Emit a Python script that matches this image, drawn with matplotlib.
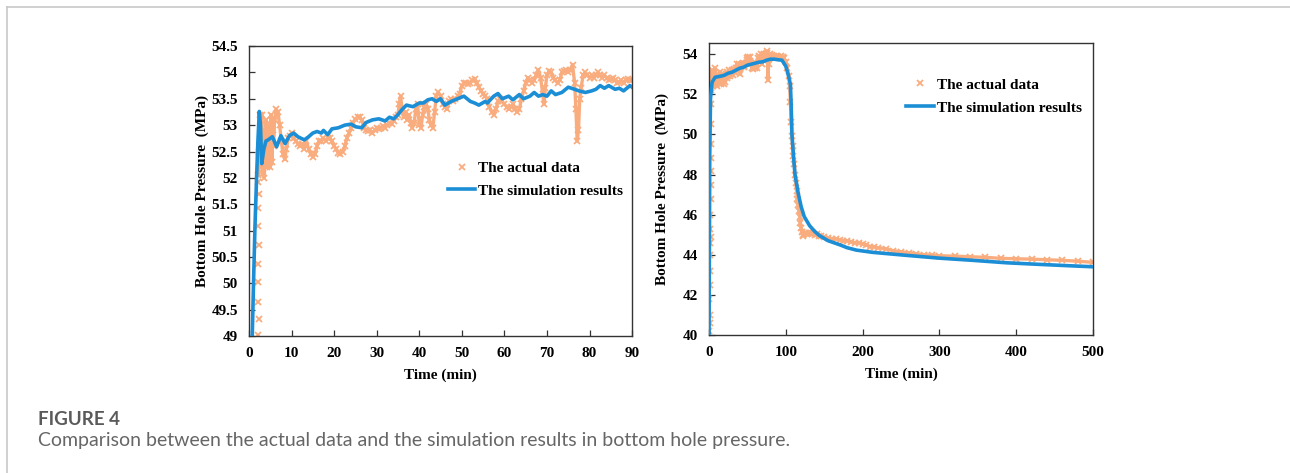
import numpy as np
import matplotlib
matplotlib.use("Agg")
from matplotlib import pyplot as plt
from matplotlib.lines import Line2D

# Left panel (0-90 min): measured data, initial rise, then the noisy record
LEFT_RISE_T = [2.2, 2.25, 2.2, 2.15, 2.2, 2.25, 2.2, 2.2, 2.25, 2.2]
LEFT_RISE_P = [49.02, 49.33, 49.65, 50.02, 50.37, 50.73, 51.08, 51.43, 51.70, 51.93]

LEFT_ACT_T = [
    2.2, 2.4, 2.6, 2.8, 3.0, 3.2, 3.4, 3.6, 3.8, 4.0, 4.2, 4.4, 4.6, 4.8, 5.0,
    5.2, 5.4, 5.6, 5.8, 6.0, 6.4, 6.8, 7.2, 7.6, 8.0, 8.4, 8.8, 9.2, 9.6, 10.0,
    10.5, 11.0, 11.5, 12.0, 12.5, 13.0, 13.5, 14.0, 14.5, 15.0, 15.5, 16.0,
    16.5, 17.0, 17.5, 18.0, 18.5, 19.0, 19.5, 20.0, 20.5, 21.0, 21.5, 22.0,
    22.5, 23.0, 23.5, 24.0, 24.5, 25.0, 25.5, 26.0, 26.5, 27.0, 27.5, 28.0,
    28.5, 29.0, 29.5, 30.0, 30.5, 31.0, 31.5, 32.0, 32.5, 33.0, 33.5, 34.0,
    34.5, 35.0, 35.3, 35.6, 36.0, 36.4, 36.8, 37.2, 37.6, 38.0, 38.4, 38.8,
    39.2, 39.6, 40.0, 40.4, 40.8, 41.2, 41.6, 42.0, 42.4, 42.8, 43.2, 43.6,
    44.0, 44.5, 45.0, 45.5, 46.0, 46.5, 47.0, 47.5, 48.0, 48.5, 49.0, 49.5,
    50.0, 50.5, 51.0, 51.5, 52.0, 52.5, 53.0, 53.5, 54.0, 54.5, 55.0, 55.5,
    56.0, 56.5, 57.0, 57.5, 58.0, 58.5, 59.0, 59.5, 60.0, 60.5, 61.0, 61.5,
    62.0, 62.5, 63.0, 63.5, 64.0, 64.5, 65.0, 65.5, 66.0, 66.5, 67.0, 67.5,
    68.0, 68.5, 69.0, 69.3, 69.6, 70.0, 70.5, 71.0, 71.5, 72.0, 72.5, 73.0,
    73.5, 74.0, 74.5, 75.0, 75.5, 76.0, 76.5, 76.8, 77.1, 77.4, 77.7, 78.0,
    78.5, 79.0, 79.5, 80.0, 80.5, 81.0, 81.5, 82.0, 82.5, 83.0, 83.5, 84.0,
    84.5, 85.0, 85.5, 86.0, 86.5, 87.0, 87.5, 88.0, 88.5, 89.0, 89.5, 90.0,
]
LEFT_ACT_P = [
    52.05, 52.5, 53.2, 52.2, 53.2, 52.1, 52.9, 52.0, 52.6, 53.1, 52.2, 53.0,
    52.3, 52.8, 52.2, 53.2, 52.3, 52.9, 52.6, 53.1, 53.3, 53.25, 53.0, 52.7,
    52.45, 52.35, 52.55, 52.75, 52.8, 52.85, 52.75, 52.7, 52.65, 52.6, 52.65,
    52.55, 52.7, 52.55, 52.45, 52.4, 52.45, 52.6, 52.7, 52.7, 52.75, 52.7,
    52.75, 52.75, 52.7, 52.6, 52.55, 52.48, 52.45, 52.5, 52.6, 52.75, 52.85,
    52.95, 53.05, 53.12, 53.15, 53.15, 53.1, 52.95, 52.9, 52.88, 52.9, 52.85,
    52.9, 52.95, 52.92, 52.95, 52.98, 52.95, 53.0, 53.05, 53.02, 53.08, 53.15,
    53.2, 53.4, 53.55, 53.3, 53.15, 53.25, 53.1, 53.2, 53.05, 52.95, 53.05,
    53.3, 53.4, 53.0, 52.95, 53.2, 53.35, 53.4, 53.3, 53.1, 53.0, 52.95, 53.25,
    53.55, 53.62, 53.55, 53.4, 53.35, 53.3, 53.45, 53.5, 53.45, 53.5, 53.55,
    53.6, 53.75, 53.8, 53.8, 53.78, 53.8, 53.85, 53.88, 53.8, 53.72, 53.65,
    53.6, 53.55, 53.5, 53.35, 53.25, 53.2, 53.3, 53.45, 53.5, 53.45, 53.4,
    53.35, 53.3, 53.35, 53.4, 53.3, 53.25, 53.3, 53.5, 53.65, 53.8, 53.9,
    53.85, 53.8, 53.85, 53.95, 54.05, 53.9, 53.6, 53.4, 53.7, 53.95, 54.02,
    54.0, 53.9, 53.85, 53.8, 53.85, 54.0, 54.02, 54.05, 54.0, 54.05, 54.15,
    53.8, 53.3, 52.7, 52.9, 53.5, 53.7, 53.95, 54.0, 53.95, 53.9, 53.95, 53.9,
    53.95, 54.0, 53.95, 53.9, 53.95, 53.9, 53.85, 53.88, 53.9, 53.85, 53.8,
    53.82, 53.85, 53.8, 53.85, 53.88, 53.85, 53.85,
]

LEFT_SIM_T = [
    0.5, 0.78, 1.1, 1.41, 1.8, 2.1, 2.43, 2.7, 3.0, 3.5, 4.0, 4.5, 5.5, 6.5,
    7.5, 8.5, 9.5, 10.5, 11.5, 13.0, 14.0, 15.0, 16.0, 17.0, 17.5, 18.5, 19.5,
    21.0, 22.5, 24.0, 25.0, 26.5, 27.5, 29.0, 30.5, 32.0, 33.0, 34.0, 35.0,
    36.0, 37.0, 38.5, 40.0, 41.0, 42.0, 43.0, 44.0, 45.0, 46.0, 47.5, 49.0,
    50.5, 52.0, 53.0, 54.0, 55.5, 56.0, 57.5, 58.5, 59.5, 61.0, 62.0, 63.5,
    64.5, 66.0, 67.0, 68.0, 69.0, 70.0, 71.0, 72.0, 73.5, 75.0, 76.5, 77.5,
    79.0, 80.5, 81.5, 82.5, 83.5, 84.5, 86.0, 87.0, 88.0, 89.5, 90.0,
]
LEFT_SIM_P = [
    48.4, 49.03, 50.1, 51.08, 52.03, 52.7, 53.26, 53.0, 52.27, 52.55, 52.7,
    52.72, 52.78, 52.59, 52.8, 52.65, 52.8, 52.85, 52.78, 52.72, 52.78, 52.85,
    52.88, 52.85, 52.9, 52.82, 52.93, 52.95, 53.0, 53.02, 52.97, 52.95, 53.05,
    53.1, 53.12, 53.08, 53.15, 53.12, 53.2, 53.3, 53.38, 53.35, 53.42, 53.42,
    53.48, 53.5, 53.45, 53.5, 53.38, 53.45, 53.5, 53.55, 53.45, 53.42, 53.38,
    53.45, 53.42, 53.55, 53.6, 53.5, 53.55, 53.48, 53.58, 53.5, 53.55, 53.62,
    53.55, 53.58, 53.55, 53.65, 53.58, 53.62, 53.72, 53.68, 53.65, 53.62,
    53.65, 53.68, 53.75, 53.7, 53.75, 53.68, 53.7, 53.65, 53.75, 53.72,
]

# Right panel (0-500 min)
RIGHT_RISE_T = [0.5, 0.8, 1.0, 0.5, 1.0, 0.8, 1.2, 1.5, 2.0, 1.5, 1.8, 2.0,
                2.5, 2.2, 2.8, 2.5, 3.0, 3.2, 3.0]
RIGHT_RISE_P = [40.2, 40.6, 41.0, 41.8, 42.5, 43.2, 44.0, 44.6, 44.9, 45.3,
                46.0, 46.8, 47.5, 48.2, 48.8, 49.5, 50.5, 51.5, 52.2]

RIGHT_ACT_T = [
    3, 4, 5, 6, 7, 8, 9, 10, 11, 12, 13, 14, 15, 16, 17, 18, 19, 20, 21, 22,
    23, 24, 25, 26, 27, 28, 29, 30, 31, 32, 33, 34, 35, 36, 37, 38, 39, 40, 41,
    42, 43, 44, 45, 46, 47, 48, 49, 50, 51, 52, 53, 54, 55, 56, 57, 58, 59, 60,
    61, 62, 63, 64, 65, 66, 67, 68, 69, 70, 71, 72, 73, 74, 75, 76, 76.5, 77,
    77.5, 78, 80, 82, 84, 86, 88, 90, 92, 94, 96, 98, 100, 102, 104, 105, 106,
    107, 108, 109, 110, 111, 112, 113, 114, 115, 116, 117, 118, 119, 120, 121,
    122, 123, 124, 126, 128, 130, 132, 134, 136, 138, 140, 143, 146, 150, 155,
    160, 165, 170, 175, 180, 185, 190, 195, 200, 205, 210, 215, 220, 230, 240,
    250, 260, 270, 280, 290, 300, 320, 340, 360, 380, 400, 420, 440, 460, 480,
    500,
]
RIGHT_ACT_P = [
    52.3, 53.2, 52.4, 53.1, 52.5, 53.3, 52.6, 53.0, 52.4, 52.9, 52.6, 53.1,
    52.5, 52.8, 52.7, 53.0, 52.5, 52.8, 52.6, 53.0, 52.8, 53.1, 52.9, 53.2,
    52.9, 53.1, 53.0, 53.2, 52.95, 53.1, 53.25, 53.1, 53.3, 53.5, 53.2, 53.35,
    53.5, 53.3, 53.0, 53.35, 53.5, 53.55, 53.35, 53.4, 53.5, 53.55, 53.7, 53.8,
    53.85, 53.8, 53.85, 53.65, 53.55, 53.3, 53.25, 53.45, 53.4, 53.3, 53.4,
    53.3, 53.5, 53.8, 53.9, 53.85, 53.8, 54.0, 53.5, 53.95, 54.0, 53.85, 53.9,
    54.0, 54.05, 54.15, 53.7, 52.7, 53.5, 53.95, 54.0, 53.95, 53.9, 53.85,
    53.9, 53.85, 53.85, 53.9, 53.85, 53.8, 53.6, 53.3, 52.9, 52.4, 51.6, 50.6,
    49.9, 49.4, 48.9, 48.5, 48.0, 47.6, 47.2, 46.8, 46.5, 46.2, 45.9, 45.6,
    45.35, 45.15, 45.0, 44.95, 45.05, 45.1, 45.05, 45.1, 45.1, 45.05, 45.1,
    45.0, 45.05, 44.95, 44.95, 44.9, 44.85, 44.8, 44.8, 44.75, 44.7, 44.7,
    44.65, 44.6, 44.6, 44.55, 44.5, 44.4, 44.4, 44.35, 44.3, 44.2, 44.15, 44.1,
    44.05, 44.0, 43.98, 43.95, 43.93, 43.9, 43.87, 43.82, 43.8, 43.78, 43.75,
    43.72, 43.68, 43.62,
]

RIGHT_SIM_T = [
    0, 0.5, 1, 2, 4, 8, 15, 20, 25, 30, 35, 40, 45, 50, 55, 60, 65, 70, 75, 80,
    85, 90, 95, 100, 103, 106, 107, 108, 110, 112, 116, 120, 124, 131, 138,
    144, 155, 170, 180, 192, 213, 257, 300, 344, 387, 430, 470, 500,
]
RIGHT_SIM_P = [
    39.5, 44.0, 49.0, 51.8, 52.6, 52.85, 52.9, 52.95, 53.05, 53.1, 53.2, 53.3,
    53.35, 53.45, 53.5, 53.55, 53.6, 53.62, 53.7, 53.75, 53.75, 53.72, 53.7,
    53.4, 53.0, 52.5, 51.5, 50.0, 48.9, 48.0, 47.1, 46.4, 45.9, 45.45, 45.15,
    44.95, 44.7, 44.5, 44.35, 44.23, 44.12, 43.97, 43.83, 43.72, 43.6, 43.52,
    43.45, 43.4,
]

LEGEND_LABELS = ["The actual data", "The simulation results"]

ORANGE = "#F9AC7E"
BLUE = "#1B8ED6"
SERIF = "Liberation Serif"
TICK_FONT = {"family": SERIF, "weight": "bold", "size": 11}


def draw_panel(ax, rise_t, rise_p, act_t, act_p, sim_t, sim_p):
    """Measured markers plus simulated line, styled like the paper figure."""
    ax.plot(rise_t, rise_p, ls="none", marker="x", ms=3.8, mew=1.3,
            color=ORANGE)
    ax.plot(act_t, act_p, ls="-", lw=2.4, marker="x", ms=3.8, mew=1.3,
            color=ORANGE, zorder=2)
    ax.plot(sim_t, sim_p, ls="-", lw=2.6, color=BLUE, zorder=3)

    for side in ax.spines.values():
        side.set_color("#333333")
        side.set_linewidth(1.0)
    ax.tick_params(direction="in", length=4, width=0.9, color="#333333",
                   pad=8)
    ax.set_xlabel("Time (min)", family=SERIF, weight="bold", fontsize=11,
                  labelpad=6)
    ax.set_ylabel("Bottom Hole Pressure  (MPa)", family=SERIF, weight="bold",
                  fontsize=11)
    ax.yaxis.set_label_coords(-0.104, 0.5)

    handles = [
        Line2D([], [], ls="none", marker="x", ms=4, mew=1.3, color=ORANGE),
        Line2D([], [], ls="-", lw=2.6, color=BLUE),
    ]
    return handles


def style_ticklabels(ax):
    for lab in ax.get_xticklabels() + ax.get_yticklabels():
        lab.set_fontfamily(TICK_FONT["family"])
        lab.set_fontweight(TICK_FONT["weight"])
        lab.set_fontsize(TICK_FONT["size"])


fig = plt.figure(figsize=(12.9, 4.73), dpi=100)

ax1 = fig.add_axes([0.193, 0.2896, 0.297, 0.613])
h = draw_panel(ax1, LEFT_RISE_T, LEFT_RISE_P, LEFT_ACT_T, LEFT_ACT_P,
               LEFT_SIM_T, LEFT_SIM_P)
ax1.set_xlim(0, 90)
ax1.set_ylim(49, 54.5)
ax1.set_xticks(np.arange(0, 91, 10))
yt = np.arange(49, 54.51, 0.5)
ax1.set_yticks(yt)
ax1.set_yticklabels([f"{v:g}" for v in yt])
style_ticklabels(ax1)
ax1.legend(h, LEGEND_LABELS, loc="upper left", bbox_to_anchor=(0.503, 0.624),
           frameon=False, prop={"family": SERIF, "weight": "bold", "size": 11},
           handlelength=1.8, handletextpad=0.2, labelspacing=0.6,
           borderaxespad=0.0)

ax2 = fig.add_axes([0.5496, 0.2918, 0.2977, 0.617])
h = draw_panel(ax2, RIGHT_RISE_T, RIGHT_RISE_P, RIGHT_ACT_T, RIGHT_ACT_P,
               RIGHT_SIM_T, RIGHT_SIM_P)
ax2.set_xlim(0, 500)
ax2.set_ylim(40, 54.55)
ax2.set_xticks(np.arange(0, 501, 100))
ax2.set_yticks(np.arange(40, 54.1, 2))
style_ticklabels(ax2)
ax2.legend(h, LEGEND_LABELS, loc="upper left", bbox_to_anchor=(0.498, 0.901),
           frameon=False, prop={"family": SERIF, "weight": "bold", "size": 11},
           handlelength=1.8, handletextpad=0.2, labelspacing=0.6,
           borderaxespad=0.0)

# page frame and caption
fig.add_artist(Line2D([7 / 1290, 1], [1 - 7 / 473, 1 - 7 / 473],
                      color="#c8c8c8", lw=1.2, transform=fig.transFigure))
fig.add_artist(Line2D([7 / 1290, 7 / 1290], [0, 1 - 7 / 473],
                      color="#c8c8c8", lw=1.2, transform=fig.transFigure))
fig.text(38 / 1290, 1 - 425 / 473, "FIGURE 4", family="Lato", weight="bold",
         fontsize=13.5, color="#5a5a5a", va="baseline")
fig.text(38 / 1290, 1 - 446 / 473,
         "Comparison between the actual data and the simulation results in "
         "bottom hole pressure.",
         family="Lato", fontsize=14, color="#666666", va="baseline")

fig.savefig("out.png", dpi=100)
